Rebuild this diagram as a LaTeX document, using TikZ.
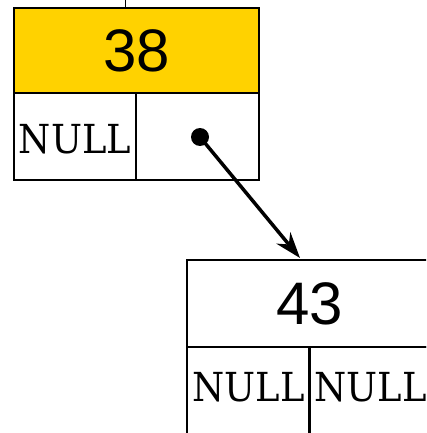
\documentclass[tikz,border=0pt]{standalone}
\usepackage{graphicx}
\usepackage{fontspec}
\setmainfont{Liberation Sans}
\newfontfamily\nullfam{DejaVu Serif}
\usetikzlibrary{arrows.meta}
\definecolor{gold}{HTML}{FFD200}
\newcommand{\nulltext}{\scalebox{0.92}[1]{NULL}}
\tikzset{
  cell/.style={draw=black, line width=2.5pt, rectangle, inner sep=0pt, outer sep=0pt},
  num/.style={font=\fontsize{60}{62}\selectfont},
  nulltxt/.style={font=\nullfam\fontsize{40}{42}\selectfont, inner sep=0pt},
}
\begin{document}
\begin{tikzpicture}[x=1pt,y=-1pt]
\useasboundingbox (0,0) rectangle (426,433);
\clip (0,0) rectangle (426,433);
% top node
\node[cell, fill=gold, minimum width=245pt, minimum height=85pt, num] (n38) at (136.5,50.5) {38};
\node[cell, minimum width=122pt, minimum height=87pt] (l38) at (75,136.5) {};
\node[cell, minimum width=123pt, minimum height=87pt] (r38) at (197.5,136.5) {};
\node[nulltxt] (null1) at ([yshift=-3pt]l38.center) {\nulltext};
\coordinate (up) at (125,-5);
\draw[line width=1pt] (up) -- (n38.north -| up);
% bottom node
\node[cell, minimum width=245pt, minimum height=87pt, num] (n43) at (309.5,303.5) {43};
\node[cell, minimum width=123pt, minimum height=100pt] (l43) at (248.5,397) {};
\node[cell, minimum width=122pt, minimum height=100pt] (r43) at (370.5,397) {};
\node[nulltxt] (null2) at (248.5,387.5) {\nulltext};
\node[nulltxt] (null3) at (370.5,387.5) {\nulltext};
% pointer
\coordinate (dot) at (200,137);
\coordinate (tip) at (300,258);
\fill (dot) circle (9pt);
\draw[line width=3.5pt, -{Stealth[length=26pt,width=18pt]}] (dot) -- (tip);
\end{tikzpicture}
\end{document}
